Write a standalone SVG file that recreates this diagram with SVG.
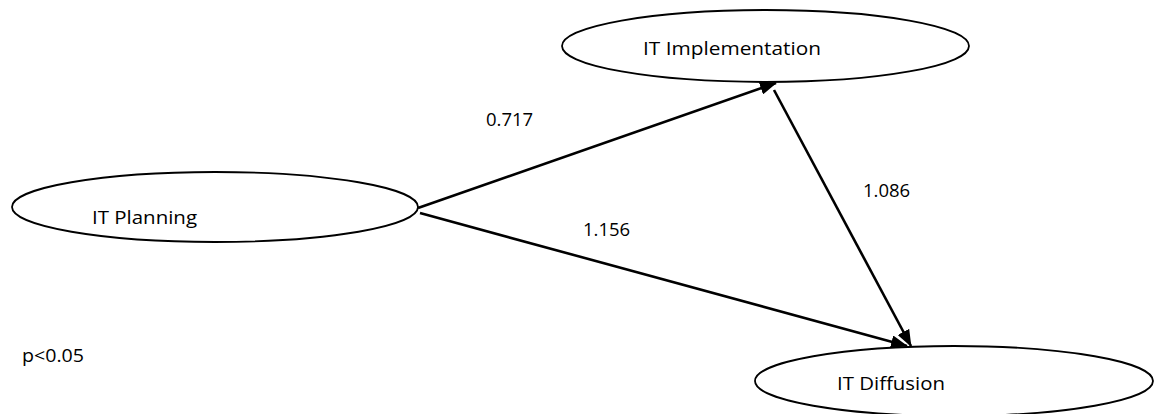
<svg xmlns="http://www.w3.org/2000/svg" width="1154" height="414" viewBox="0 0 1154 414">
  <style>
    .node { fill: #ffffff; stroke: #000000; stroke-width: 1.8; }
    .label { font-family: "Open Sans", "Liberation Sans", sans-serif; font-size: 18.5px; fill: #000000; }
    .edge { stroke: #000000; stroke-width: 2.6; fill: none; marker-end: url(#arrow); }
  </style>
  <defs>
    <marker id="arrow" viewBox="0 0 17 13" refX="16" refY="6.5" markerWidth="17" markerHeight="13" markerUnits="userSpaceOnUse" orient="auto">
      <path d="M0,0 L17,6.5 L0,13 Z" fill="#000000"/>
    </marker>
  </defs>
  <rect width="1154" height="414" fill="#ffffff"/>

  <g id="connectors">
    <line class="edge" x1="418" y1="208" x2="776" y2="83"/>
    <line class="edge" x1="420" y1="213" x2="907" y2="346"/>
    <line class="edge" x1="774" y1="90" x2="911" y2="346"/>
    <text class="label" x="486" y="126">0.717</text>
    <text class="label" x="583" y="236">1.156</text>
    <text class="label" x="863" y="197">1.086</text>
  </g>

  <g id="it-implementation">
    <ellipse class="node" cx="765.5" cy="46" rx="203.5" ry="36"/>
    <text class="label" x="643" y="55" textLength="178" lengthAdjust="spacingAndGlyphs">IT Implementation</text>
  </g>

  <g id="it-planning">
    <ellipse class="node" cx="215" cy="207" rx="203" ry="35"/>
    <text class="label" x="92" y="224" textLength="105" lengthAdjust="spacingAndGlyphs">IT Planning</text>
  </g>

  <g id="it-diffusion">
    <ellipse class="node" cx="954" cy="381" rx="199" ry="35"/>
    <text class="label" x="837" y="390" textLength="108" lengthAdjust="spacingAndGlyphs">IT Diffusion</text>
  </g>

  <text id="significance" class="label" x="22" y="362" textLength="62" lengthAdjust="spacingAndGlyphs">p&lt;0.05</text>
</svg>
